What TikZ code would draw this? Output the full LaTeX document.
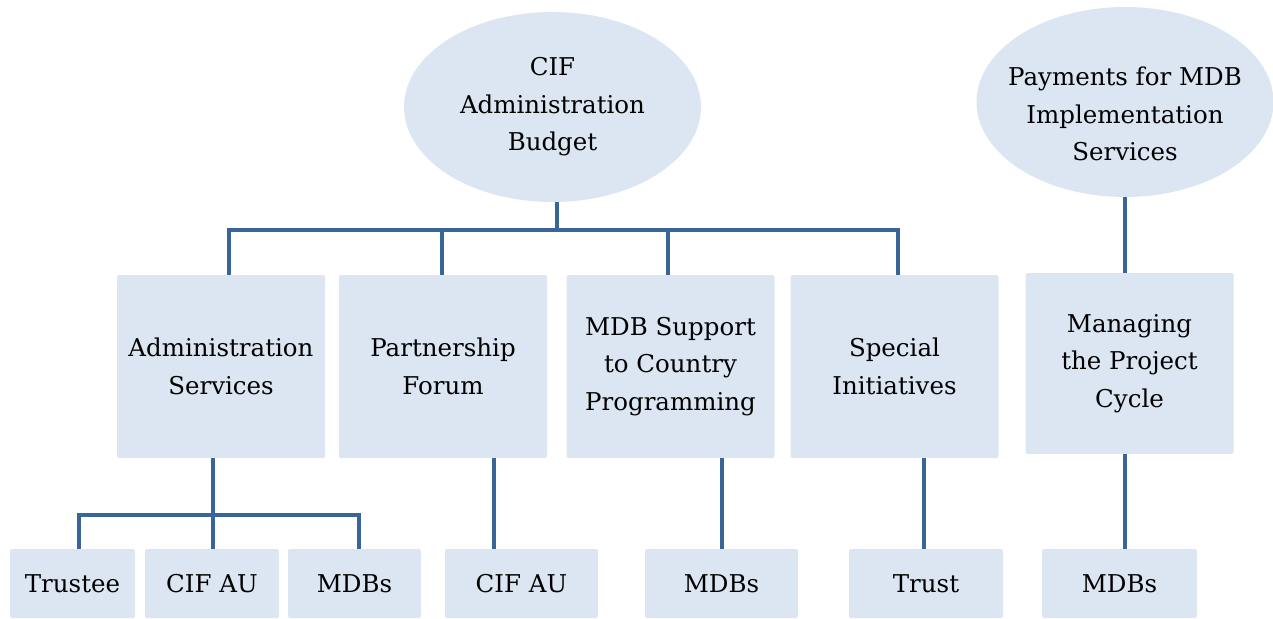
\documentclass[tikz,border=0pt]{standalone}
\usepackage{fontspec}
\setmainfont{DejaVu Serif}
\usetikzlibrary{shapes.geometric}
\definecolor{boxfill}{HTML}{DCE6F2}
\definecolor{linkblue}{HTML}{3A6599}
\begin{document}
\begin{tikzpicture}[x=1pt,y=-1pt,
  lbl/.style={font=\fontsize{24.5}{37.5}\selectfont, align=center, text=black},
  oval/.style={ellipse, fill=boxfill, inner sep=0pt, minimum width=297pt, minimum height=190pt},
  unit/.style={rectangle, fill=boxfill, rounded corners=2pt, inner sep=0pt,
               minimum width=208pt, minimum height=183pt, lbl},
  leaf/.style={rectangle, fill=boxfill, rounded corners=2pt, inner sep=0pt,
               minimum height=69pt, lbl},
  link/.style={draw=linkblue, line width=3.5pt}]
\useasboundingbox (0,0) rectangle (1273,618);
\clip (0,0) rectangle (1273,618);

% budget ovals
\node[oval, lbl] (budget) at (552.5,107) {CIF\\Administration\\Budget};
\node[oval] (payments) at (1125,102) {};
\node[lbl] (paymentstxt) at (1125,114) {Payments for MDB\\Implementation\\Services};

% activity boxes
\node[unit] (admin)   at (221,366.5)   {Administration\\Services};
\node[unit] (partner) at (443,366.5)   {Partnership\\Forum};
\node[unit] (mdbsup)  at (670.5,366.5) {MDB Support\\to Country\\Programming};
\node[unit] (special) at (894.5,366.5) {Special\\Initiatives};
\node[unit, minimum height=181pt] (manage) at (1129.5,363.5) {Managing\\the Project\\Cycle};

% executing agencies
\node[leaf, minimum width=125pt] (trustee) at (72.5,583.5)  {Trustee};
\node[leaf, minimum width=134pt] (cifau1)  at (212,583.5)   {CIF AU};
\node[leaf, minimum width=133pt] (mdbs1)   at (354.5,583.5) {MDBs};
\node[leaf, minimum width=153pt] (cifau2)  at (521.5,583.5) {CIF AU};
\node[leaf, minimum width=153pt] (mdbs2)   at (721.5,583.5) {MDBs};
\node[leaf, minimum width=154pt] (trust)   at (926,583.5)   {Trust};
\node[leaf, minimum width=155pt] (mdbs3)   at (1119.5,583.5) {MDBs};

% top distribution bus
\coordinate (hub) at (557,230);
\coordinate (b1) at (229,230);
\coordinate (b2) at (442,230);
\coordinate (b3) at (668,230);
\coordinate (b4) at (898,230);
\draw[link] (budget.south -| hub) -- (hub);
\draw[link] (b1 |- admin.north) -- (b1) -- (b4) -- (b4 |- special.north);
\draw[link] (b2) -- (b2 |- partner.north);
\draw[link] (b3) -- (b3 |- mdbsup.north);
\draw[link] (payments.south) -- (payments.south |- manage.north);

% administration services split
\coordinate (sub) at (213,515);
\coordinate (s1) at (79,515);
\coordinate (s3) at (359,515);
\draw[link] (admin.south -| sub) -- (sub);
\draw[link] (s1 |- trustee.north) -- (s1) -- (s3) -- (s3 |- mdbs1.north);
\draw[link] (sub) -- (sub |- cifau1.north);

% single links to agencies
\draw[link] ([xshift=51pt]partner.south) coordinate (pd) -- (pd |- cifau2.north);
\draw[link] ([xshift=51.5pt]mdbsup.south) coordinate (md) -- (md |- mdbs2.north);
\draw[link] ([xshift=29.5pt]special.south) coordinate (sd) -- (sd |- trust.north);
\draw[link] ([xshift=-4.5pt]manage.south) coordinate (gd) -- (gd |- mdbs3.north);
\end{tikzpicture}
\end{document}
